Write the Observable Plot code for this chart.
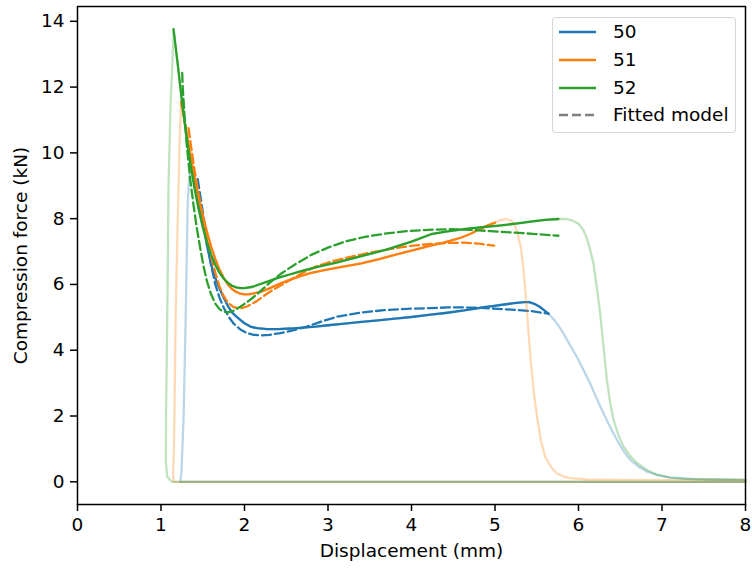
<!DOCTYPE html>
<html>
<head>
<meta charset="utf-8">
<script src="https://cdn.jsdelivr.net/npm/d3@7"></script>
<script src="https://cdn.jsdelivr.net/npm/@observablehq/plot@0.6"></script>
<style>
  body { margin: 0; background: #fff; }
  #wrap { position: relative; width: 752px; height: 570px; font-family: "DejaVu Sans", sans-serif; }
  .legend { position: absolute; left: 552px; top: 17px; width: 184px; height: 116px;
            border: 1px solid rgba(204,204,204,0.8); border-radius: 4px; background: rgba(255,255,255,0.8); box-sizing: border-box; }
  .row { position: absolute; left: 0; height: 28px; width: 184px; }
  .row svg { position: absolute; left: 5px; top: 0; }
  .row span { position: absolute; left: 60px; top: 0; line-height: 28px; font-size: 18.5px; color: #000; white-space: nowrap; }
</style>
</head>
<body>
<div id="wrap"></div>
<script>
// ---- data ----
const seriesNames = ["50", "51", "52"];
const seriesColors = ["#1f77b4", "#ff7f0e", "#2ca02c"];
const fitLabel = "Fitted model";
const xTicks = [0, 1, 2, 3, 4, 5, 6, 7, 8];
const yTicks = [0, 2, 4, 6, 8, 10, 12, 14];

// specimen 50
const rise50X = [8, 1.23, 1.245, 1.27, 1.295, 1.32, 1.34];
const rise50Y = [0, 0, 0.3, 1.9, 4.9, 8.5, 9.3];
const main50X = [1.37, 1.41, 1.45, 1.5, 1.55, 1.6, 1.65, 1.7, 1.75, 1.8, 1.85, 1.9, 1.95, 2.0, 2.07, 2.15, 2.27, 2.4, 2.55, 2.7, 2.85, 3.0, 3.2, 3.4, 3.6, 3.8, 4.0, 4.23, 4.43, 4.63, 4.75, 4.87, 4.99, 5.11, 5.23, 5.35, 5.41, 5.47, 5.53, 5.59, 5.64];
const main50Y = [9.55, 9.1, 8.6, 7.9, 7.2, 6.6, 6.2, 5.88, 5.6, 5.35, 5.15, 5.03, 4.92, 4.82, 4.72, 4.67, 4.64, 4.64, 4.66, 4.69, 4.72, 4.76, 4.81, 4.86, 4.91, 4.96, 5.01, 5.08, 5.14, 5.21, 5.26, 5.31, 5.35, 5.39, 5.43, 5.46, 5.46, 5.41, 5.33, 5.21, 5.11];
const fall50X = [5.7, 5.76, 5.82, 5.9, 5.98, 6.06, 6.14, 6.22, 6.3, 6.38, 6.46, 6.54, 6.62, 6.72, 6.82, 6.96, 7.1, 7.26, 7.42, 7.7, 8.0];
const fall50Y = [4.95, 4.75, 4.51, 4.15, 3.8, 3.4, 2.99, 2.52, 2.08, 1.66, 1.27, 0.93, 0.67, 0.46, 0.31, 0.2, 0.13, 0.1, 0.08, 0.07, 0.06];
const fit50X = [1.44, 1.47, 1.5, 1.55, 1.6, 1.65, 1.7, 1.75, 1.81, 1.87, 1.95, 2.03, 2.11, 2.2, 2.3, 2.43, 2.59, 2.75, 2.93, 3.11, 3.39, 3.67, 3.95, 4.23, 4.43, 4.63, 4.83, 5.03, 5.23, 5.43, 5.64];
const fit50Y = [9.2, 8.7, 8.2, 7.4, 6.6, 6.0, 5.6, 5.3, 5.02, 4.81, 4.63, 4.52, 4.47, 4.45, 4.47, 4.52, 4.61, 4.72, 4.88, 5.02, 5.14, 5.22, 5.26, 5.28, 5.3, 5.3, 5.29, 5.26, 5.23, 5.19, 5.11];

// specimen 51
const rise51X = [8, 1.15, 1.145, 1.155, 1.175, 1.21, 1.225];
const rise51Y = [0, 0, 0.3, 1, 5, 9, 10.5];
const main51X = [1.24, 1.28, 1.32, 1.36, 1.4, 1.45, 1.5, 1.55, 1.6, 1.65, 1.7, 1.75, 1.8, 1.85, 1.9, 1.95, 2.0, 2.05, 2.1, 2.2, 2.3, 2.4, 2.5, 2.65, 2.8, 3.0, 3.2, 3.4, 3.6, 3.8, 4.0, 4.23, 4.35, 4.47, 4.59, 4.71, 4.8, 4.9, 5.0];
const main51Y = [11.55, 11.0, 10.4, 9.8, 9.25, 8.65, 8.1, 7.6, 7.15, 6.78, 6.45, 6.2, 6.0, 5.86, 5.77, 5.72, 5.7, 5.7, 5.72, 5.78, 5.88, 6.0, 6.1, 6.24, 6.35, 6.46, 6.55, 6.64, 6.76, 6.9, 7.03, 7.18, 7.25, 7.33, 7.42, 7.54, 7.66, 7.78, 7.88];
const fall51X = [5.06, 5.13, 5.19, 5.23, 5.27, 5.31, 5.34, 5.37, 5.4, 5.43, 5.47, 5.51, 5.55, 5.6, 5.67, 5.74, 5.82, 5.9, 6.1, 6.5, 7.0, 8.0];
const fall51Y = [7.95, 7.99, 7.95, 7.84, 7.55, 7.13, 6.5, 5.62, 4.6, 3.6, 2.6, 1.88, 1.25, 0.77, 0.45, 0.26, 0.16, 0.11, 0.07, 0.06, 0.05, 0.05];
const fit51X = [1.33, 1.36, 1.4, 1.45, 1.5, 1.55, 1.6, 1.65, 1.7, 1.75, 1.8, 1.87, 1.95, 2.03, 2.15, 2.27, 2.41, 2.55, 2.71, 2.87, 3.07, 3.27, 3.51, 3.75, 3.99, 4.23, 4.43, 4.63, 4.81, 4.99];
const fit51Y = [10.75, 10.2, 9.5, 8.75, 8.05, 7.4, 6.85, 6.35, 5.95, 5.65, 5.45, 5.31, 5.27, 5.33, 5.5, 5.72, 5.94, 6.14, 6.37, 6.56, 6.72, 6.84, 6.97, 7.08, 7.17, 7.23, 7.26, 7.27, 7.24, 7.18];

// specimen 52
const rise52X = [8, 1.13, 1.075, 1.058, 1.06, 1.075, 1.09, 1.115, 1.138];
const rise52Y = [0, 0, 0.15, 0.6, 2, 5, 9, 11.5, 12.8];
const main52X = [1.15, 1.2, 1.25, 1.3, 1.35, 1.4, 1.45, 1.5, 1.55, 1.6, 1.65, 1.7, 1.75, 1.8, 1.85, 1.9, 1.95, 2.0, 2.1, 2.2, 2.3, 2.4, 2.55, 2.7, 2.9, 3.1, 3.4, 3.7, 4.0, 4.25, 4.45, 4.65, 4.85, 5.05, 5.25, 5.45, 5.6, 5.76];
const main52Y = [13.76, 12.7, 11.6, 10.6, 9.7, 8.95, 8.3, 7.75, 7.28, 6.9, 6.6, 6.36, 6.18, 6.05, 5.96, 5.91, 5.89, 5.89, 5.93, 6.02, 6.11, 6.2, 6.31, 6.42, 6.55, 6.66, 6.86, 7.06, 7.3, 7.54, 7.62, 7.69, 7.74, 7.79, 7.85, 7.92, 7.96, 7.99];
const fall52X = [5.84, 5.92, 6.0, 6.06, 6.1, 6.14, 6.18, 6.22, 6.26, 6.3, 6.34, 6.38, 6.42, 6.48, 6.54, 6.62, 6.7, 6.82, 6.94, 7.1, 7.3, 7.6, 8.0];
const fall52Y = [7.99, 7.95, 7.85, 7.64, 7.4, 7.05, 6.63, 5.9, 5.11, 4.1, 3.09, 2.4, 1.88, 1.4, 1.07, 0.78, 0.57, 0.36, 0.21, 0.13, 0.09, 0.07, 0.06];
const fit52X = [1.254, 1.26, 1.28, 1.31, 1.35, 1.39, 1.43, 1.47, 1.51, 1.55, 1.6, 1.65, 1.7, 1.75, 1.8, 1.87, 1.95, 2.05, 2.15, 2.3, 2.45, 2.6, 2.8, 3.0, 3.2, 3.45, 3.7, 3.95, 4.2, 4.45, 4.7, 4.95, 5.2, 5.45, 5.76];
const fit52Y = [12.43, 12.0, 11.2, 10.2, 9.2, 8.4, 7.7, 7.1, 6.55, 6.1, 5.7, 5.42, 5.25, 5.17, 5.15, 5.2, 5.32, 5.5, 5.7, 6.05, 6.35, 6.6, 6.9, 7.12, 7.3, 7.45, 7.55, 7.62, 7.66, 7.68, 7.66, 7.62, 7.58, 7.54, 7.48];

// ---- build tables ----
const toRows = (xs, ys) => xs.map((x, i) => ({x, y: ys[i]}));
const specimens = [
  {rise: [rise50X, rise50Y], main: [main50X, main50Y], fall: [fall50X, fall50Y], fit: [fit50X, fit50Y]},
  {rise: [rise51X, rise51Y], main: [main51X, main51Y], fall: [fall51X, fall51Y], fit: [fit51X, fit51Y]},
  {rise: [rise52X, rise52Y], main: [main52X, main52Y], fall: [fall52X, fall52Y], fit: [fit52X, fit52Y]}
];

const LW = 2.3;
const DASH = "9,4";
const marks = [];
specimens.forEach((s, i) => {
  const color = seriesColors[i];
  const raw = [...toRows(...s.rise), ...toRows(...s.main), ...toRows(...s.fall)];
  marks.push(Plot.line(raw, {x: "x", y: "y", stroke: color, strokeWidth: LW, strokeOpacity: 0.3, curve: "linear"}));
  marks.push(Plot.line(toRows(...s.main), {x: "x", y: "y", stroke: color, strokeWidth: LW, curve: "linear"}));
  marks.push(Plot.line(toRows(...s.fit), {x: "x", y: "y", stroke: color, strokeWidth: LW, strokeDasharray: DASH, curve: "linear"}));
});

const chart = Plot.plot({
  width: 752,
  height: 570,
  marginLeft: 77,
  marginRight: 7,
  marginTop: 6,
  marginBottom: 66,
  style: {fontFamily: "DejaVu Sans", fontSize: "18.5px", color: "#000", background: "#fff", overflow: "visible"},
  x: {domain: [0, 8]},
  y: {domain: [-0.69, 14.45]},
  marks: [
    ...marks,
    Plot.axisX({ticks: xTicks, tickSize: 7, tickPadding: 6, strokeWidth: 1.5, label: null, tickFormat: d => String(d)}),
    Plot.axisY({ticks: yTicks, tickSize: 7, tickPadding: 6, strokeWidth: 1.5, label: null, tickFormat: d => String(d)}),
    Plot.frame({stroke: "#000", strokeWidth: 1.5}),
    Plot.text(["Displacement (mm)"], {frameAnchor: "bottom", lineAnchor: "middle", dy: 47, fontSize: 18.5}),
    Plot.text(["Compression force (kN)"], {frameAnchor: "left", rotate: -90, textAnchor: "middle", lineAnchor: "middle", dx: -56, fontSize: 18.5})
  ]
});

const wrap = document.getElementById("wrap");
wrap.appendChild(chart);

// legend
const legend = document.createElement("div");
legend.className = "legend";
const entries = seriesNames.map((n, i) => ({label: n, color: seriesColors[i], dash: null}))
  .concat([{label: fitLabel, color: "#808080", dash: DASH}]);
const rowTops = [0, 1, 2, 3].map(k => 0 + k * 27.8);
entries.forEach((e, k) => {
  const row = document.createElement("div");
  row.className = "row";
  row.style.top = rowTops[k] + "px";
  row.innerHTML = `<svg width="40" height="28"><line x1="1" x2="38" y1="14" y2="14" stroke="${e.color}" stroke-width="${LW}" ${e.dash ? `stroke-dasharray="${e.dash}"` : ""}/></svg><span>${e.label}</span>`;
  legend.appendChild(row);
});
wrap.appendChild(legend);
</script>
</body>
</html>
